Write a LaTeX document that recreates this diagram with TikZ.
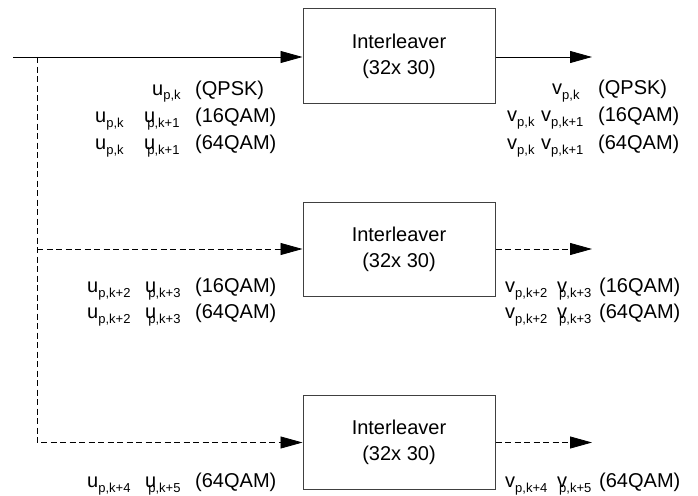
\documentclass[tikz,border=0pt]{standalone}
\usepackage{fontspec}
\setmainfont{Liberation Sans}
\usetikzlibrary{arrows.meta}
\newcommand{\mainf}{\fontsize{20}{26}\selectfont}
\newcommand{\subf}{\fontsize{13}{13}\selectfont}
\newcommand{\sy}[2]{#1\raisebox{-5pt}{\subf #2}}
\newcommand{\syo}[2]{#1\kern-8pt\raisebox{-5pt}{\subf #2}}
\begin{document}
\begin{tikzpicture}[x=1pt,y=-1pt,
  ilbox/.style={draw=black!75, line width=1pt, minimum width=192pt, minimum height=94pt, inner sep=0pt, align=center, font=\mainf},
  lbl/.style={anchor=base west, inner sep=0pt, font=\mainf},
  sig/.style={line width=0.8pt, -{Triangle[length=22pt,width=12pt]}},
  dsig/.style={sig, dash pattern=on 6pt off 3.5pt}]
\useasboundingbox (0,0) rectangle (698,495);
% boxes
\node[ilbox] (b1) at (399,56) {Interleaver\\(32x 30)};
\node[ilbox] (b2) at (399,249) {Interleaver\\(32x 30)};
\node[ilbox] (b3) at (399,442.5) {Interleaver\\(32x 30)};
% coordinates
\coordinate (in) at (13,57);
\coordinate (split) at (37,57);
\coordinate (j2) at (37,249);
\coordinate (o1) at (592,57);
\coordinate (o2) at (592,249);
\coordinate (o3) at (592,442.5);
% connectors
\draw[sig] (in) -- (in -| b1.west);
\draw[dsig] (split) |- (b3.west);
\draw[dsig] (j2) -- (b2.west);
\draw[sig] (b1.east |- o1) -- (o1);
\draw[dsig] (b2.east) -- (o2);
\draw[dsig] (b3.east) -- (o3);
% left labels block 1
\node[lbl] (l11) at (152,95) {\sy{u}{p,k}};
\node[lbl] (l1m) at (195,95) {(QPSK)};
\node[lbl] (l21) at (95,122) {\sy{u}{p,k}};
\node[lbl] (l22) at (144,122) {\syo{u}{p,k+1}};
\node[lbl] (l2m) at (195,122) {(16QAM)};
\node[lbl] (l31) at (95,149) {\sy{u}{p,k}};
\node[lbl] (l32) at (144,149) {\syo{u}{p,k+1}};
\node[lbl] (l3m) at (195,149) {(64QAM)};
% right labels block 1
\node[lbl] (r11) at (552,94) {\sy{v}{p,k}};
\node[lbl] (r1m) at (598,94) {(QPSK)};
\node[lbl] (r21) at (507,121) {\sy{v}{p,k}};
\node[lbl] (r22) at (541,121) {\sy{v}{p,k+1}};
\node[lbl] (r2m) at (598,121) {(16QAM)};
\node[lbl] (r31) at (507,149) {\sy{v}{p,k}};
\node[lbl] (r32) at (541,149) {\sy{v}{p,k+1}};
\node[lbl] (r3m) at (598,149) {(64QAM)};
% block 2
\node[lbl] (m11) at (87,292) {\sy{u}{p,k+2}};
\node[lbl] (m12) at (145,292) {\syo{u}{p,k+3}};
\node[lbl] (m1m) at (195,292) {(16QAM)};
\node[lbl] (m21) at (87,318) {\sy{u}{p,k+2}};
\node[lbl] (m22) at (145,318) {\syo{u}{p,k+3}};
\node[lbl] (m2m) at (195,318) {(64QAM)};
\node[lbl] (n11) at (505,292) {\sy{v}{p,k+2}};
\node[lbl] (n12) at (557,292) {\syo{v}{p,k+3}};
\node[lbl] (n1m) at (599,292) {(16QAM)};
\node[lbl] (n21) at (505,318) {\sy{v}{p,k+2}};
\node[lbl] (n22) at (557,318) {\syo{v}{p,k+3}};
\node[lbl] (n2m) at (599,318) {(64QAM)};
% block 3
\node[lbl] (q11) at (87,487) {\sy{u}{p,k+4}};
\node[lbl] (q12) at (145,487) {\syo{u}{p,k+5}};
\node[lbl] (q1m) at (195,487) {(64QAM)};
\node[lbl] (s11) at (505,487) {\sy{v}{p,k+4}};
\node[lbl] (s12) at (557,487) {\syo{v}{p,k+5}};
\node[lbl] (s1m) at (599,487) {(64QAM)};
\end{tikzpicture}
\end{document}
